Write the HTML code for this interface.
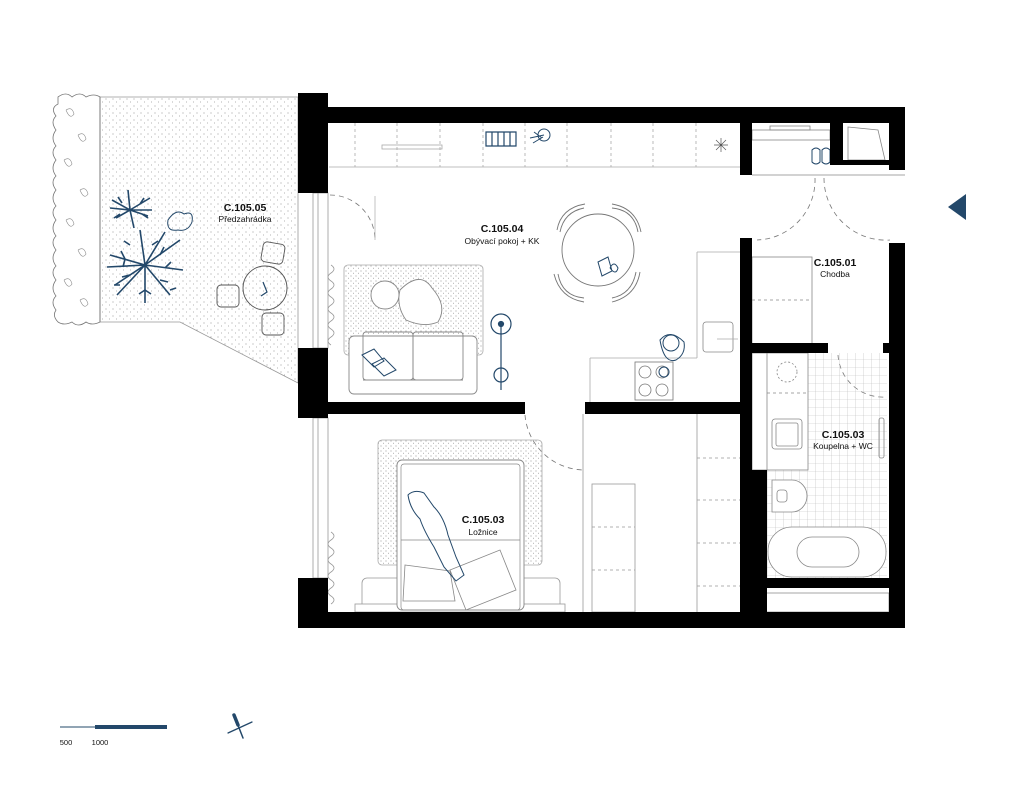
<!DOCTYPE html>
<html><head><meta charset="utf-8"><style>
html,body{margin:0;padding:0;background:#fff;}
svg{display:block}
text{font-family:"Liberation Sans",sans-serif;text-anchor:middle;fill:#111}
</style></head><body>
<svg width="1024" height="786" viewBox="0 0 1024 786" xmlns="http://www.w3.org/2000/svg">
<defs>
<pattern id="dots" width="7" height="7" patternUnits="userSpaceOnUse">
<circle cx="1" cy="1" r="0.5" fill="#777"/><circle cx="4.5" cy="4" r="0.5" fill="#999"/>
</pattern>
<pattern id="dots2" width="5" height="5" patternUnits="userSpaceOnUse">
<circle cx="1" cy="1" r="0.55" fill="#888"/><circle cx="3.5" cy="3.2" r="0.5" fill="#999"/>
</pattern>
<pattern id="tiles" width="8" height="8" patternUnits="userSpaceOnUse">
<path d="M8 0V8H0" fill="none" stroke="#bbb" stroke-width="0.6"/>
</pattern>
</defs>

<!-- garden -->
<polygon points="100,97 298,97 298,383 180,322 100,322" fill="url(#dots)" stroke="#999" stroke-width="0.8"/>
<line x1="100" y1="97" x2="100" y2="322" stroke="#888"/>
<path d="M58,97 q8,-6 14,0 q8,-6 14,0 q8,-4 14,0 v225 q-8,4 -14,0 q-8,6 -14,0 q-8,4 -14,0 q-6,-6 -2,-12 q-6,-8 0,-14 q-6,-8 0,-16 q-6,-8 0,-14 q-6,-8 0,-16 q-6,-8 0,-14 q-6,-8 0,-16 q-6,-8 0,-14 q-6,-8 0,-16 q-6,-8 0,-14 q-6,-8 0,-16 q-6,-8 0,-14 q-6,-8 0,-16 q-6,-8 0,-14 q-6,-8 2,-12 z" fill="none" stroke="#777" stroke-width="0.8"/>
<g fill="none" stroke="#888" stroke-width="0.6">
<path d="M66,110 q6,-4 8,4 q-4,6 -8,-4 M78,135 q6,-4 8,4 q-4,6 -8,-4 M64,160 q6,-4 8,4 q-4,6 -8,-4 M80,190 q6,-4 8,4 q-4,6 -8,-4 M66,220 q6,-4 8,4 q-4,6 -8,-4 M78,250 q6,-4 8,4 q-4,6 -8,-4 M64,280 q6,-4 8,4 q-4,6 -8,-4 M80,300 q6,-4 8,4 q-4,6 -8,-4"/>
</g>
<g stroke="#23486a" stroke-width="1.6" fill="none">
<path d="M130,210 l-18,-10 M130,210 l-14,8 M130,210 l20,-12 M130,210 l18,6 M130,210 l-2,-20 M130,210 l4,18 M130,210 l-20,-2 M130,210 l22,0 M122,203 l-4,-6 M140,204 l4,-6 M120,214 l-6,4 M142,214 l6,4"/>
<path d="M145,265 l-35,-10 M145,265 l-30,20 M145,265 l-5,-35 M145,265 l35,-25 M145,265 l38,5 M145,265 l25,30 M145,265 l0,38 M145,265 l-28,30 M145,265 l-38,2 M145,265 l20,-33"/>
<path d="M125,259 l-4,-8 M125,259 l-2,8 M130,275 l-8,2 M160,255 l4,-8 M165,268 l6,-6 M160,280 l8,2 M145,290 l-6,4 M145,290 l6,4 M130,245 l-6,-4 M152,245 l6,-4 M120,285 l-6,0 M170,290 l6,-2"/>
<path d="M168,220 q8,-12 16,-6 q10,-4 8,8 q-4,10 -14,8 q-12,2 -10,-10z" stroke-width="1"/>
</g>
<g fill="none" stroke="#555" stroke-width="0.9">
<circle cx="265" cy="288" r="22"/>
<rect x="262" y="243" width="22" height="20" rx="4" transform="rotate(10 273 253)"/>
<rect x="217" y="285" width="22" height="22" rx="4"/>
<rect x="262" y="313" width="22" height="22" rx="4"/>
</g>
<path d="M263,282 l4,10 l-6,4" stroke="#23486a" fill="none" stroke-width="1.2"/>
<text x="245" y="211" font-size="10.5" font-weight="bold">C.105.05</text>
<text x="245" y="222" font-size="8.5">Předzahrádka</text>

<!-- interior floor lines -->
<g fill="none" stroke="#aaa" stroke-width="0.8">
<line x1="329" y1="167" x2="740" y2="167"/>
<path d="M355,123v44M397,123v44M440,123v44M483,123v44M525,123v44M567,123v44M611,123v44M653,123v44M696,123v44" stroke-dasharray="3,3"/>
<rect x="382" y="145" width="60" height="4"/>
<line x1="697" y1="252" x2="740" y2="252"/>
<line x1="697" y1="252" x2="697" y2="358"/>
<line x1="590" y1="358" x2="697" y2="358"/>
<line x1="590" y1="358" x2="590" y2="402"/>
<rect x="635" y="362" width="38" height="38" stroke="#777"/>
<circle cx="645" cy="372" r="6" stroke="#777"/><circle cx="662" cy="372" r="6" stroke="#777"/>
<circle cx="645" cy="390" r="6" stroke="#777"/><circle cx="662" cy="390" r="6" stroke="#777"/>
<rect x="703" y="322" width="30" height="30" rx="3" stroke="#888"/>
<line x1="717" y1="339" x2="738" y2="339"/>
</g>
<!-- dining table -->
<g fill="none" stroke="#777" stroke-width="0.9">
<circle cx="598" cy="250" r="36"/>
<path d="M560,232 q4,-20 24,-24 M612,208 q22,2 26,24 M636,272 q-4,22 -24,26 M584,298 q-22,-2 -26,-24"/>
<path d="M557,230 q4,-22 28,-26 M612,204 q24,4 29,28 M640,272 q-4,24 -28,30 M584,302 q-24,-4 -30,-28"/>
</g>
<path d="M598,262 l10,-5 l4,14 l-10,5z M610,268 q4,-8 8,0 q-2,8 -8,0" fill="none" stroke="#23486a" stroke-width="1"/>
<!-- rug + sofa -->
<rect x="344" y="265" width="139" height="90" rx="4" fill="url(#dots2)" stroke="#aaa" stroke-width="0.8"/>
<g fill="none" stroke="#888" stroke-width="0.9">
<circle cx="385" cy="295" r="14" fill="#fff"/>
<path d="M400,290 q20,-20 32,-2 q16,18 6,34 q-14,6 -32,-2 q-10,-14 -6,-30z" fill="#fff"/>
<rect x="349" y="336" width="128" height="58" rx="5" fill="#fff"/>
<rect x="363" y="332" width="50" height="48" rx="3"/>
<rect x="413" y="332" width="50" height="48" rx="3"/>
<line x1="363" y1="380" x2="463" y2="380"/>
</g>
<path d="M362,355 l12,-6 l10,12 l-10,6z M372,364 l12,-6 l12,12 l-12,6z" fill="#fff" stroke="#23486a" stroke-width="1"/>
<g stroke="#23486a" fill="none" stroke-width="1.2">
<circle cx="501" cy="324" r="10"/><circle cx="501" cy="375" r="7"/>
<line x1="501" y1="324" x2="501" y2="390"/><circle cx="501" cy="324" r="2.5" fill="#23486a"/>
</g>
<path d="M486,132 h30 v14 h-30z M492,132v14M498,132v14M504,132v14M510,132v14" fill="none" stroke="#23486a" stroke-width="1.2"/>
<circle cx="544" cy="135" r="6" fill="none" stroke="#23486a"/>
<path d="M530,138 l14,-3 M534,132 l8,6 M533,143 l10,-6" stroke="#23486a"/>
<path d="M716,140 l10,10 M726,140 l-10,10 M721,138v14M714,145h14" stroke="#555" stroke-width="0.7"/>
<!-- cook -->
<g fill="none" stroke="#23486a" stroke-width="1">
<circle cx="671" cy="343" r="8"/><path d="M660,340 q10,-12 24,2 q2,12 -8,18 q-12,4 -16,-20z"/>
<circle cx="664" cy="372" r="5"/>
</g>
<text x="502" y="232" font-size="10.5" font-weight="bold">C.105.04</text>
<text x="502" y="244" font-size="8.5">Obývací pokoj + KK</text>

<!-- doors -->
<g fill="none" stroke="#777" stroke-width="0.8" stroke-dasharray="5,4">
<path d="M330,195 a45,45 0 0 1 45,45"/>
<path d="M815,178 a60,60 0 0 1 -58,62"/>
<path d="M824,178 a62,62 0 0 0 66,62"/>
<path d="M525,415 a60,60 0 0 0 60,55"/>
<path d="M838,355 a45,45 0 0 0 48,42"/>
</g>
<line x1="375" y1="196" x2="375" y2="240" stroke="#aaa" stroke-width="0.7"/>

<!-- entry closet -->
<g fill="none" stroke="#888" stroke-width="0.8">
<rect x="752" y="130" width="78" height="10"/>
<rect x="770" y="126" width="40" height="4"/>
<polygon points="848,127 878,130 885,160 848,160"/>
<line x1="752" y1="175" x2="905" y2="175"/>
<rect x="752" y="257" width="60" height="90"/>
<line x1="752" y1="300" x2="812" y2="300" stroke-dasharray="3,3"/>
</g>
<path d="M812,150 q4,-4 8,0 v12 q-4,4 -8,0z M822,150 q4,-4 8,0 v12 q-4,4 -8,0z" fill="none" stroke="#23486a"/>
<text x="835" y="266" font-size="10.5" font-weight="bold">C.105.01</text>
<text x="835" y="277" font-size="8.5">Chodba</text>

<!-- bathroom -->
<rect x="767" y="353" width="120" height="225" fill="url(#tiles)"/>
<g fill="none" stroke="#888" stroke-width="0.8">
<rect x="752" y="353" width="56" height="117" fill="#fff"/>
<line x1="767" y1="353" x2="767" y2="470"/>
<line x1="767" y1="393" x2="808" y2="393" stroke-dasharray="3,3"/>
<circle cx="787" cy="372" r="10" stroke-dasharray="2,2"/>
<rect x="772" y="419" width="30" height="30" rx="3"/>
<rect x="776" y="423" width="22" height="23" rx="2"/>
<path d="M772,480 h20 a15,16 0 0 1 0,32 h-20z" fill="#fff"/>
<rect x="777" y="490" width="10" height="12" rx="3"/>
<rect x="768" y="527" width="118" height="50" rx="24" fill="#fff"/>
<rect x="797" y="537" width="62" height="30" rx="15"/>
<rect x="879" y="418" width="5" height="40" rx="2"/>
</g>
<text x="843" y="438" font-size="10.5" font-weight="bold">C.105.03</text>
<text x="843" y="449" font-size="8.5">Koupelna + WC</text>
<polygon points="750,593 889,593 889,612 752,612 760,604" fill="#fff" stroke="#888" stroke-width="0.8"/>

<!-- bedroom -->
<g fill="none" stroke="#999" stroke-width="0.8">
<line x1="583" y1="414" x2="583" y2="612"/>
<line x1="697" y1="414" x2="697" y2="612"/>
<line x1="697" y1="458" x2="740" y2="458" stroke-dasharray="3,3"/>
<line x1="697" y1="500" x2="740" y2="500" stroke-dasharray="3,3"/>
<line x1="697" y1="543" x2="740" y2="543" stroke-dasharray="3,3"/>
<line x1="697" y1="586" x2="740" y2="586" stroke-dasharray="3,3"/>
<rect x="592" y="484" width="43" height="128"/>
<line x1="592" y1="527" x2="635" y2="527" stroke-dasharray="3,3"/>
<line x1="592" y1="570" x2="635" y2="570" stroke-dasharray="3,3"/>
</g>
<rect x="378" y="440" width="164" height="125" rx="4" fill="url(#dots2)" stroke="#aaa" stroke-width="0.8"/>
<rect x="362" y="578" width="198" height="34" rx="5" fill="#fff" stroke="#999" stroke-width="0.8"/>
<rect x="355" y="604" width="210" height="8" fill="#fff" stroke="#999" stroke-width="0.8"/>
<rect x="397" y="460" width="127" height="150" rx="5" fill="#fff" stroke="#888" stroke-width="0.9"/>
<rect x="401" y="464" width="119" height="146" rx="3" fill="none" stroke="#888" stroke-width="0.7"/>
<line x1="401" y1="540" x2="520" y2="540" stroke="#888" stroke-width="0.7"/>
<path d="M405,565 l45,6 l5,30 l-52,0z M450,570 l50,-20 l16,40 l-50,20z" fill="#fff" stroke="#888" stroke-width="0.8"/>
<path d="M408,495 q6,-6 16,-2 l10,14 q10,10 14,28 l8,22 l8,18 l-8,6 l-12,-14 l-10,-20 q-10,-16 -14,-28 q-10,-10 -12,-24z" fill="none" stroke="#23486a" stroke-width="1"/>
<text x="483" y="523" font-size="10.5" font-weight="bold">C.105.03</text>
<text x="483" y="535" font-size="8.5">Ložnice</text>

<!-- windows & curtains -->
<g fill="none" stroke="#999" stroke-width="0.8">
<rect x="313" y="193" width="15" height="155"/><line x1="318" y1="193" x2="318" y2="348"/>
<rect x="313" y="418" width="15" height="160"/><line x1="318" y1="418" x2="318" y2="578"/>
<path d="M331,265 q6,4 0,8 q-6,4 0,8 q6,4 0,8 q-6,4 0,8 q6,4 0,8 q-6,4 0,8 q6,4 0,8 q-6,4 0,8 q6,4 0,8 q-6,4 0,8"/>
<path d="M331,532 q6,4 0,8 q-6,4 0,8 q6,4 0,8 q-6,4 0,8 q6,4 0,8 q-6,4 0,8 q6,4 0,8 q-6,4 0,8 q6,4 0,8"/>
</g>

<!-- walls -->
<g fill="#000">
<rect x="298" y="93" width="30" height="100"/>
<rect x="298" y="107" width="607" height="16"/>
<rect x="298" y="348" width="30" height="70"/>
<rect x="298" y="578" width="30" height="50"/>
<rect x="298" y="612" width="607" height="16"/>
<rect x="889" y="107" width="16" height="63"/>
<rect x="889" y="243" width="16" height="385"/>
<rect x="740" y="123" width="12" height="52"/>
<rect x="740" y="238" width="12" height="115"/>
<rect x="740" y="470" width="27" height="142"/>
<rect x="740" y="353" width="12" height="117"/>
<rect x="298" y="402" width="227" height="12"/>
<rect x="585" y="402" width="155" height="12"/>
<rect x="740" y="343" width="88" height="10"/>
<rect x="883" y="343" width="6" height="10"/>
<rect x="740" y="578" width="149" height="10"/>
<rect x="830" y="123" width="13" height="42"/>
<rect x="830" y="160" width="59" height="5"/>
</g>

<!-- north arrow triangle -->
<polygon points="948,207 966,194 966,220" fill="#23486a"/>

<!-- scale -->
<line x1="60" y1="727" x2="95" y2="727" stroke="#23486a" stroke-width="1"/>
<rect x="95" y="725" width="72" height="4" fill="#23486a"/>
<text x="66" y="745" font-size="7.5">500</text>
<text x="100" y="745" font-size="7.5">1000</text>
<g stroke="#23486a" stroke-linecap="round">
<line x1="234" y1="715" x2="243" y2="738" stroke-width="1.5"/>
<line x1="234" y1="715" x2="238" y2="725" stroke-width="3.5"/>
<line x1="228" y1="733" x2="252" y2="722" stroke-width="1.3"/>
</g>
</svg>
</body></html>
